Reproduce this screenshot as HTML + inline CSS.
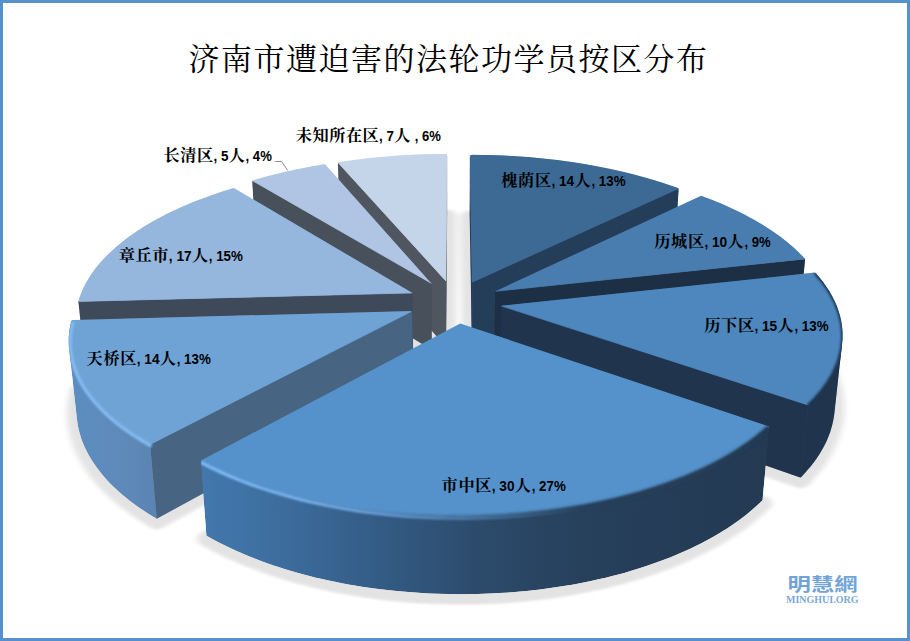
<!DOCTYPE html>
<html lang="zh"><head><meta charset="utf-8"><title>济南市遭迫害的法轮功学员按区分布</title>
<style>html,body{margin:0;padding:0;background:#fff}body{width:910px;height:641px;overflow:hidden}svg{display:block}</style>
</head><body>
<svg width="910" height="641" viewBox="0 0 910 641">
<defs><linearGradient id="g3" gradientUnits="userSpaceOnUse" x1="201" y1="0" x2="768" y2="0">
<stop offset="0" stop-color="#4378AE"/><stop offset="0.15" stop-color="#3C6C9C"/><stop offset="0.3" stop-color="#345D87"/><stop offset="0.5" stop-color="#2C4A6A"/><stop offset="0.7" stop-color="#263F5A"/><stop offset="1" stop-color="#243A53"/></linearGradient>
<linearGradient id="g4" gradientUnits="userSpaceOnUse" x1="68" y1="0" x2="158" y2="0">
<stop offset="0" stop-color="#5C8DC2"/><stop offset="0.6" stop-color="#5E8AB9"/><stop offset="1" stop-color="#5A84B2"/></linearGradient>
<linearGradient id="g3f" gradientUnits="userSpaceOnUse" x1="201" y1="0" x2="768" y2="0">
<stop offset="0" stop-color="#345D87" stop-opacity="0"/><stop offset="0.3" stop-color="#345D87" stop-opacity="0"/><stop offset="0.5" stop-color="#2C4A6A" stop-opacity="0.5"/><stop offset="0.7" stop-color="#263F5A" stop-opacity="1"/><stop offset="1" stop-color="#243A53" stop-opacity="1"/></linearGradient>
<linearGradient id="h3" gradientUnits="userSpaceOnUse" x1="201" y1="0" x2="768" y2="0">
<stop offset="0" stop-color="#82BEFA" stop-opacity="1"/><stop offset="0.2" stop-color="#7CB8F4" stop-opacity="0.9"/><stop offset="0.4" stop-color="#72B0EC" stop-opacity="0.6"/><stop offset="0.55" stop-color="#68A6E2" stop-opacity="0.3"/><stop offset="0.68" stop-color="#5592CB" stop-opacity="0"/><stop offset="1" stop-color="#5592CB" stop-opacity="0"/></linearGradient>
<filter id="blur" x="-10%" y="-10%" width="120%" height="120%"><feGaussianBlur stdDeviation="3 1.3"/></filter>
<filter id="bb" x="-5%" y="-20%" width="110%" height="140%"><feGaussianBlur stdDeviation="1.1"/></filter>
<filter id="bb2" x="-5%" y="-20%" width="110%" height="140%"><feGaussianBlur stdDeviation="1.5"/></filter>
<filter id="bh" x="-5%" y="-20%" width="110%" height="140%"><feGaussianBlur stdDeviation="1.2"/></filter>
<clipPath id="c7"><polygon points="339.8,162.0 339.0,162.3 338.5,162.7 338.0,163.4 337.9,164.2 339.7,221.7 340.0,222.7 442.2,343.0 442.9,343.6 443.5,343.8 444.3,343.8 444.9,343.5 445.7,342.8 446.0,342.3 446.1,341.6 447.2,213.5 447.1,156.0 446.8,155.0 446.1,154.2 445.3,153.9 442.1,153.9 421.9,154.3 401.8,155.3 386.9,156.4 372.0,157.8 357.3,159.5"/></clipPath>
<clipPath id="c0"><polygon points="472.1,154.7 471.2,154.9 470.5,155.4 470.1,156.1 469.9,156.9 469.6,214.4 471.9,345.3 472.2,346.4 472.6,346.9 473.2,347.3 474.0,347.5 475.1,347.3 673.8,250.4 674.3,250.1 674.8,249.4 675.0,248.6 678.6,189.9 678.6,189.3 678.3,188.7 677.9,188.1 677.4,187.8 666.4,184.0 653.8,180.0 645.2,177.5 632.1,174.0 623.1,171.8 609.6,168.7 595.7,166.0 581.7,163.5 572.2,162.1 557.9,160.1 543.5,158.5 528.9,157.1 514.2,156.1 499.5,155.3 484.7,154.9"/></clipPath>
<clipPath id="c6"><polygon points="253.9,180.0 253.3,180.2 252.7,180.8 252.4,181.6 252.3,182.2 255.6,240.5 255.8,241.3 256.3,242.0 428.6,348.0 429.4,348.3 430.0,348.4 430.8,348.1 431.3,347.7 431.8,347.0 431.9,346.2 431.5,284.2 431.2,283.2 325.7,164.9 325.0,164.4 323.9,164.3 310.9,166.6 296.9,169.3 283.2,172.3 274.2,174.5 265.3,176.8"/></clipPath>
<clipPath id="c1"><polygon points="494.5,355.9 494.7,357.0 495.3,357.6 496.1,358.1 496.9,358.1 797.4,324.5 798.0,324.2 798.5,323.8 798.8,323.2 798.9,322.6 805.1,259.9 805.0,259.1 804.6,258.4 803.0,256.5 795.9,249.5 790.8,245.0 785.3,240.5 779.6,236.1 773.7,231.9 767.4,227.7 761.0,223.7 754.2,219.8 747.2,216.0 740.1,212.3 728.9,207.0 721.2,203.6 709.3,198.7 701.8,195.9 701.2,195.8 700.5,196.0 496.1,290.9 495.4,291.8 495.2,292.7"/></clipPath>
<clipPath id="c5"><polygon points="78.5,301.0 78.4,301.9 85.3,367.0 85.6,367.9 86.0,368.4 86.5,368.8 87.1,369.0 411.2,360.1 411.8,360.0 412.5,359.6 413.1,358.9 413.3,358.3 412.5,294.1 412.4,293.2 411.8,292.5 234.6,188.4 233.7,188.1 232.8,188.2 220.7,192.0 212.2,194.9 203.8,197.9 195.6,201.1 187.6,204.3 176.0,209.5 168.5,213.1 161.2,216.8 150.7,222.6 144.0,226.6 137.6,230.7 128.4,237.1 122.6,241.5 117.1,246.0 109.4,252.9 102.4,260.1 96.1,267.5 92.4,272.5 90.6,275.1 87.5,280.2 85.9,282.8 83.3,288.0 82.1,290.7 80.0,296.0"/></clipPath>
<clipPath id="c2"><polygon points="499.9,372.1 500.0,372.7 500.4,373.4 500.9,373.9 501.4,374.2 799.3,477.2 800.3,477.3 800.9,477.2 801.6,476.7 806.1,471.8 808.7,468.8 811.2,465.8 815.7,459.9 819.8,453.7 823.4,447.6 826.5,441.5 829.0,435.3 830.2,432.2 832.0,426.1 833.4,419.9 834.4,413.7 842.2,342.8 842.5,339.9 842.6,334.3 842.5,331.4 842.0,325.7 841.0,320.1 840.4,317.3 838.9,311.9 836.9,306.3 834.6,301.0 833.2,298.2 831.8,295.5 828.8,290.3 827.1,287.7 823.5,282.5 819.5,277.5 815.9,273.3 815.3,272.8 814.5,272.6 502.8,305.6 501.9,305.8 501.4,306.2 501.0,306.9 500.8,307.7"/></clipPath>
<clipPath id="c4"><polygon points="69.2,349.8 77.0,419.7 77.9,425.9 79.3,432.1 81.1,438.2 82.2,441.2 84.8,447.4 87.8,453.5 91.3,459.6 93.3,462.6 97.4,468.6 99.8,471.6 104.7,477.5 107.3,480.5 112.9,486.3 115.9,489.1 122.3,494.8 125.7,497.6 132.7,503.1 136.4,505.8 144.2,511.1 152.4,516.3 155.8,518.3 156.4,518.5 157.0,518.5 157.8,518.2 412.3,379.5 412.9,378.6 413.1,377.8 412.3,313.0 412.1,312.4 411.6,311.7 410.9,311.2 410.0,311.1 73.0,319.9 72.4,320.0 71.8,320.4 71.2,321.3 70.2,325.5 69.3,331.2 68.8,336.8 68.7,339.7 68.8,345.4"/></clipPath>
<clipPath id="c3"><polygon points="202.0,459.9 201.5,460.3 201.1,460.8 200.9,461.4 200.8,462.0 206.3,534.6 206.4,535.2 206.9,535.9 207.4,536.3 215.5,540.8 225.0,545.6 235.0,550.3 245.3,554.8 250.7,557.0 261.6,561.2 267.1,563.2 272.9,565.2 284.4,569.0 296.4,572.5 314.9,577.4 327.5,580.3 347.0,584.2 360.2,586.4 380.4,589.3 394.1,590.8 414.8,592.6 428.8,593.4 449.8,594.1 463.8,594.2 477.9,594.0 498.9,593.1 512.8,592.2 526.6,591.0 540.3,589.4 560.5,586.6 573.7,584.4 593.1,580.6 605.8,577.7 624.3,572.9 636.2,569.3 647.8,565.6 659.1,561.6 670.0,557.5 675.3,555.3 685.7,550.8 690.7,548.5 700.4,543.7 709.8,538.8 714.3,536.2 722.9,531.1 727.1,528.4 735.1,523.0 739.0,520.3 746.3,514.7 749.8,511.8 756.4,506.1 762.0,500.8 762.5,500.1 762.6,499.4 769.2,427.9 769.1,427.3 768.8,426.7 768.3,426.3 767.7,426.0 461.0,323.7 460.2,323.6 459.3,323.9"/></clipPath></defs>
<rect x="0" y="0" width="910" height="641" fill="#5592CB"/>
<rect x="3" y="3" width="904" height="635" fill="#FFFFFF"/>
<g opacity="0.105" filter="url(#blur)"><g fill="#000" stroke="#000" stroke-width="19" stroke-linejoin="round" transform="translate(0,3.2) scale(1,0.763)"><polygon points="446.0,455.5 339.8,291.5 349.3,289.5 358.9,287.7 368.5,286.0 378.2,284.6 388.0,283.3 397.8,282.2 407.6,281.4 417.5,280.7 427.4,280.2 437.3,279.9 447.2,279.8"/><polygon points="472.0,457.1 469.6,281.0 479.6,281.1 489.5,281.4 499.4,281.9 509.3,282.6 519.1,283.5 529.0,284.5 538.8,285.8 548.5,287.2 558.2,288.9 567.8,290.7 577.3,292.7 586.7,295.0 596.1,297.4 605.4,300.0 614.5,302.8 623.6,305.7 632.5,308.9 641.3,312.3 649.9,315.8 658.4,319.5 666.8,323.4 674.9,327.5"/><polygon points="431.9,458.9 255.6,316.7 264.2,313.2 272.8,310.0 281.6,306.9 290.5,303.9 299.6,301.2 308.7,298.7 317.9,296.3 327.2,294.1"/><polygon points="494.5,469.7 696.9,337.7 704.9,342.0 712.8,346.4 720.4,351.0 727.9,355.8 735.1,360.7 742.1,365.8 749.0,371.1 755.5,376.5 761.9,382.0 768.0,387.8 773.8,393.6 779.4,399.7 784.7,405.8 789.7,412.1 794.4,418.6 798.8,425.1"/><polygon points="413.3,471.9 85.5,483.7 87.2,476.3 89.2,468.9 91.6,461.6 94.3,454.4 97.4,447.4 100.9,440.4 104.7,433.5 108.9,426.8 113.3,420.2 118.1,413.7 123.2,407.3 128.5,401.1 134.2,395.0 140.1,389.1 146.3,383.3 152.7,377.7 159.4,372.2 166.3,367.0 173.5,361.8 180.8,356.9 188.4,352.1 196.1,347.5 204.1,343.0 212.2,338.7 220.5,334.7 228.9,330.8 237.5,327.0"/><polygon points="499.9,489.7 808.5,443.8 812.7,450.6 816.5,457.6 820.1,464.8 823.2,472.0 826.0,479.3 828.5,486.7 830.5,494.2 832.2,501.8 833.5,509.5 834.4,517.2 834.8,525.0 834.9,532.8 834.5,540.6 833.7,548.5 832.4,556.4 830.7,564.3 828.6,572.2 825.9,580.0 822.9,587.8 819.3,595.6 815.4,603.4 810.9,611.0 806.0,618.6 800.6,626.1"/><polygon points="413.1,496.9 156.7,680.0 148.2,673.3 140.1,666.3 132.6,659.2 125.5,651.9 118.8,644.5 112.7,637.0 107.0,629.3 101.8,621.5 97.1,613.6 92.9,605.7 89.2,597.7 86.0,589.6 83.2,581.5 80.9,573.4 79.1,565.3 77.8,557.2 76.9,549.1 76.4,541.0 76.4,532.9 76.9,524.9 77.8,517.0 79.1,509.1"/><polygon points="460.0,514.0 762.6,655.6 756.4,663.3 749.8,670.8 742.7,678.2 735.1,685.5 727.1,692.5 718.6,699.4 709.7,706.1 700.4,712.6 690.7,718.8 680.5,724.9 670.0,730.6 659.1,736.1 647.8,741.3 636.2,746.2 624.3,750.8 612.0,755.1 599.5,759.0 586.7,762.6 573.7,765.9 560.5,768.8 547.0,771.4 533.4,773.6 519.7,775.4 505.8,776.8 491.9,777.9 477.9,778.5 463.9,778.8 449.8,778.7 435.8,778.2 421.8,777.3 407.9,776.0 394.1,774.3 380.4,772.3 366.9,769.9 353.6,767.1 340.4,764.0 327.5,760.5 314.9,756.7 302.5,752.5 290.4,748.1 278.6,743.3 267.2,738.2 256.1,732.8 245.3,727.2 235.0,721.3 225.0,715.1 215.5,708.7 206.4,702.1"/></g></g>
<g clip-path="url(#c7)">
<polygon points="445.9,280.9 337.8,162.3 339.8,222.4 446.0,347.5" fill="#4F5660" stroke="#4F5660" stroke-width="0.8" stroke-linejoin="round"/>
<polygon points="445.9,280.9 447.1,153.8 447.2,213.5 446.0,347.5" fill="#4F5660" stroke="#4F5660" stroke-width="0.8" stroke-linejoin="round"/>
<polygon points="445.9,280.9 337.8,162.3 342.7,161.5 347.5,160.8 352.4,160.1 357.3,159.5 362.2,158.9 367.1,158.3 372.0,157.8 376.9,157.3 381.9,156.8 386.9,156.4 391.9,156.0 396.8,155.6 401.8,155.3 406.9,155.0 411.9,154.7 416.9,154.5 421.9,154.3 426.9,154.1 432.0,154.0 437.0,153.9 442.1,153.9 447.1,153.8" fill="#C5D5E9" stroke="#C5D5E9" stroke-width="0.8" stroke-linejoin="round"/>
</g>
<g clip-path="url(#c0)">
<polygon points="472.3,282.1 469.9,154.7 469.6,214.4 472.0,348.8" fill="#243E5A" stroke="#243E5A" stroke-width="0.8" stroke-linejoin="round"/>
<polygon points="472.3,282.1 678.7,188.3 674.9,249.9 472.0,348.8" fill="#243E5A" stroke="#243E5A" stroke-width="0.8" stroke-linejoin="round"/>
<polygon points="472.3,282.1 469.9,154.7 474.8,154.7 479.8,154.8 484.7,154.9 489.6,155.0 494.5,155.1 499.5,155.3 504.4,155.5 509.3,155.8 514.2,156.1 519.1,156.4 524.0,156.7 528.9,157.1 533.7,157.5 538.6,158.0 543.4,158.5 548.3,159.0 553.1,159.5 557.9,160.1 562.7,160.7 567.5,161.4 572.2,162.1 577.0,162.8 581.7,163.5 586.4,164.3 591.1,165.1 595.7,166.0 600.4,166.9 605.0,167.8 609.6,168.7 614.1,169.7 618.7,170.7 623.2,171.8 627.6,172.8 632.1,174.0 636.5,175.1 640.9,176.3 645.2,177.5 649.5,178.7 653.8,180.0 658.1,181.3 662.3,182.6 666.4,184.0 670.6,185.4 674.7,186.8 678.7,188.3" fill="#3D6A95" stroke="#3D6A95" stroke-width="0.8" stroke-linejoin="round"/>
</g>
<g clip-path="url(#c6)">
<polygon points="431.5,283.4 252.2,180.5 255.6,241.6 431.9,350.1" fill="#48505C" stroke="#48505C" stroke-width="0.8" stroke-linejoin="round"/>
<polygon points="431.5,283.4 252.2,180.5 256.6,179.2 260.9,178.0 265.3,176.8 269.7,175.6 274.2,174.5 278.7,173.4 283.2,172.3 287.8,171.3 292.3,170.2 296.9,169.3 301.6,168.3 306.2,167.4 310.9,166.6 315.6,165.7 320.3,164.9 325.1,164.1" fill="#AFC5E3" stroke="#AFC5E3" stroke-width="0.8" stroke-linejoin="round"/>
</g>
<g clip-path="url(#c1)">
<polygon points="495.2,291.3 805.2,258.9 798.8,324.4 494.5,358.4" fill="#1D2F45" stroke="#1D2F45" stroke-width="0.8" stroke-linejoin="round"/>
<polygon points="495.2,291.3 701.1,195.7 705.2,197.2 709.3,198.7 713.3,200.3 717.3,201.9 721.2,203.6 725.1,205.3 728.9,207.0 732.7,208.7 736.4,210.5 740.1,212.3 743.7,214.1 747.3,216.0 750.8,217.9 754.2,219.8 757.6,221.7 760.9,223.7 764.2,225.7 767.4,227.7 770.6,229.8 773.7,231.9 776.7,234.0 779.6,236.1 782.5,238.3 785.3,240.5 788.1,242.7 790.7,245.0 793.3,247.2 795.9,249.5 798.3,251.8 800.7,254.2 803.0,256.5 805.2,258.9" fill="#497DB0" stroke="#497DB0" stroke-width="0.8" stroke-linejoin="round"/>
</g>
<g clip-path="url(#c5)">
<polygon points="412.5,292.9 78.3,301.4 85.5,369.1 413.3,360.1" fill="#3E4A59" stroke="#3E4A59" stroke-width="0.8" stroke-linejoin="round"/>
<polygon points="412.5,292.9 78.3,301.4 79.1,298.7 80.0,296.0 81.0,293.3 82.1,290.7 83.3,288.0 84.6,285.4 86.0,282.8 87.4,280.2 89.0,277.6 90.6,275.1 92.4,272.5 94.2,270.0 96.1,267.5 98.1,265.0 100.2,262.6 102.4,260.1 104.6,257.7 107.0,255.3 109.4,253.0 111.9,250.6 114.4,248.3 117.1,246.0 119.8,243.8 122.6,241.5 125.4,239.3 128.4,237.1 131.4,235.0 134.4,232.8 137.5,230.7 140.7,228.7 144.0,226.6 147.3,224.6 150.7,222.6 154.1,220.6 157.6,218.7 161.2,216.8 164.8,214.9 168.5,213.1 172.2,211.3 176.0,209.5 179.8,207.8 183.7,206.0 187.6,204.4 191.6,202.7 195.6,201.1 199.7,199.5 203.8,197.9 208.0,196.4 212.2,194.9 216.4,193.4 220.7,192.0 225.0,190.6 229.4,189.3 233.8,187.9" fill="#95B6DD" stroke="#95B6DD" stroke-width="0.8" stroke-linejoin="round"/>
</g>
<g clip-path="url(#c2)">
<polygon points="500.8,305.8 808.1,405.0 800.6,477.7 499.9,373.6" fill="#20354D" stroke="#20354D" stroke-width="0.8" stroke-linejoin="round"/>
<polygon points="842.1,343.9 841.7,346.8 841.2,349.8 840.6,352.7 839.8,355.7 839.0,358.7 838.0,361.6 836.8,364.6 835.6,367.5 834.2,370.5 832.7,373.4 831.1,376.3 829.4,379.3 827.5,382.2 825.5,385.1 823.4,388.0 821.2,390.9 818.8,393.7 816.3,396.6 813.7,399.4 811.0,402.2 808.1,405.0 800.6,477.7 803.4,474.8 806.1,471.8 808.7,468.8 811.2,465.9 813.5,462.9 815.7,459.8 817.8,456.8 819.8,453.8 821.6,450.7 823.4,447.6 825.0,444.6 826.4,441.5 827.8,438.4 829.0,435.3 830.2,432.2 831.1,429.1 832.0,426.0 832.8,422.9 833.4,419.8 834.0,416.7 834.4,413.6" fill="#20354D" stroke="#20354D" stroke-width="0.8" stroke-linejoin="round"/>
<polygon points="500.8,305.8 815.2,272.4 817.4,274.9 819.5,277.4 821.5,280.0 823.5,282.5 825.3,285.1 827.1,287.7 828.8,290.3 830.4,292.9 831.9,295.6 833.3,298.2 834.6,300.9 835.8,303.6 836.9,306.3 837.9,309.1 838.9,311.8 839.7,314.6 840.4,317.4 841.0,320.1 841.6,322.9 842.0,325.8 842.3,328.6 842.5,331.4 842.6,334.2 842.6,337.1 842.5,339.9 842.2,342.8 841.9,345.7 841.4,348.5 840.9,351.4 840.2,354.3 839.4,357.1 838.5,360.0 837.5,362.9 836.4,365.7 835.1,368.6 833.7,371.5 832.3,374.3 830.7,377.2 828.9,380.0 827.1,382.8 825.1,385.7 823.1,388.5 820.9,391.3 818.5,394.1 816.1,396.8 813.6,399.6 810.9,402.3 808.1,405.0" fill="#4D87BD" stroke="#4D87BD" stroke-width="0.8" stroke-linejoin="round"/>
<polyline points="815.2,272.9 819.5,277.9 823.5,283.0 827.1,288.2 830.4,293.4 833.3,298.7 835.8,304.1 837.9,309.6 839.7,315.1 841.0,320.6 842.0,326.3 842.5,331.9 842.6,337.6 842.2,343.3 841.4,349.0 840.2,354.8 838.5,360.5 836.4,366.2 833.7,372.0 830.7,377.7 827.1,383.3 823.1,389.0 818.5,394.6 813.6,400.1 808.1,405.5" fill="none" stroke="#20354D" stroke-width="3.2" filter="url(#bb)"/>
</g>
<g clip-path="url(#c4)">
<polygon points="412.3,311.0 150.0,444.4 156.7,518.8 413.1,379.1" fill="#476583" stroke="#476583" stroke-width="0.8" stroke-linejoin="round"/>
<polygon points="150.0,444.4 145.6,442.0 141.4,439.5 137.3,437.0 133.3,434.5 129.4,431.9 125.6,429.3 121.9,426.7 118.4,424.1 115.0,421.4 111.7,418.7 108.5,416.0 105.5,413.2 102.6,410.5 99.8,407.7 97.1,404.9 94.5,402.1 92.1,399.2 89.8,396.4 87.6,393.5 85.5,390.6 83.6,387.7 81.7,384.8 80.0,381.9 78.5,379.0 77.0,376.1 75.7,373.2 74.4,370.3 73.3,367.3 72.4,364.4 71.5,361.5 70.7,358.5 70.1,355.6 69.6,352.7 69.2,349.7 77.0,419.8 77.4,422.8 77.9,425.9 78.5,429.0 79.3,432.1 80.2,435.1 81.1,438.2 82.2,441.3 83.5,444.3 84.8,447.4 86.3,450.5 87.8,453.5 89.5,456.6 91.3,459.6 93.2,462.6 95.3,465.6 97.5,468.6 99.7,471.6 102.1,474.6 104.7,477.5 107.3,480.5 110.1,483.4 113.0,486.3 116.0,489.1 119.1,492.0 122.3,494.8 125.7,497.6 129.1,500.4 132.7,503.1 136.4,505.8 140.3,508.5 144.2,511.1 148.2,513.7 152.4,516.3 156.7,518.8" fill="url(#g4)" stroke="#2F5178" stroke-width="0" stroke-linejoin="round"/>
<polygon points="412.3,311.0 150.0,444.4 145.7,442.0 141.5,439.6 137.4,437.1 133.5,434.6 129.6,432.1 125.9,429.6 122.3,427.0 118.8,424.4 115.4,421.7 112.2,419.1 109.0,416.4 106.0,413.7 103.1,411.0 100.3,408.2 97.7,405.5 95.1,402.7 92.7,399.9 90.4,397.1 88.2,394.3 86.1,391.5 84.1,388.6 82.3,385.8 80.6,382.9 79.0,380.0 77.5,377.2 76.1,374.3 74.9,371.4 73.8,368.5 72.8,365.6 71.8,362.7 71.1,359.8 70.4,356.9 69.8,354.1 69.4,351.2 69.0,348.3 68.8,345.4 68.7,342.5 68.7,339.7 68.8,336.8 69.0,334.0 69.3,331.1 69.7,328.3 70.2,325.5 70.8,322.7 71.6,319.9" fill="#6FA3D6" stroke="#6FA3D6" stroke-width="0.8" stroke-linejoin="round"/>
<polyline points="150.5,446.0 141.8,441.1 133.6,436.0 125.9,430.8 118.7,425.5 112.0,420.1 105.7,414.6 100.0,409.0 94.7,403.3 90.0,397.6 85.7,391.8 81.9,385.9 78.7,380.1 75.9,374.2 73.6,368.3 71.8,362.4 70.5,356.4 69.6,350.5 69.2,344.7 69.3,338.8 69.8,333.0 70.7,327.2 72.1,321.5" fill="none" stroke="url(#g4)" stroke-width="3.2" filter="url(#bb)"/>
<polyline points="151.5,445.9 142.8,441.0 134.6,435.9 126.9,430.7 119.7,425.4 113.0,420.0 106.7,414.5 101.0,408.9 95.7,403.2 91.0,397.5 86.7,391.7 82.9,385.8 79.7,380.0 76.9,374.1 74.6,368.2 72.8,362.3 71.5,356.3 70.6,350.4 70.2,344.6 70.3,338.7 70.8,332.9 71.7,327.1 73.1,321.4" fill="none" stroke="#86BEF4" stroke-width="3.4" filter="url(#bh)"/>
</g>
<g clip-path="url(#c3)">
<polygon points="769.4,426.6 766.3,429.4 763.1,432.2 759.8,434.9 756.4,437.7 752.8,440.4 749.1,443.1 745.4,445.7 741.4,448.4 737.4,451.0 733.3,453.5 729.0,456.1 724.7,458.6 720.2,461.0 715.6,463.5 710.9,465.9 706.1,468.2 701.2,470.5 696.1,472.8 691.0,475.0 685.8,477.2 680.4,479.3 675.0,481.4 669.5,483.4 663.9,485.4 658.2,487.3 652.3,489.2 646.5,491.0 640.5,492.8 634.4,494.5 628.3,496.1 622.1,497.7 615.8,499.3 609.4,500.7 602.9,502.2 596.4,503.5 589.9,504.8 583.2,506.0 576.5,507.2 569.8,508.3 563.0,509.3 556.1,510.3 549.2,511.2 542.3,512.0 535.3,512.8 528.3,513.5 521.3,514.1 514.2,514.7 507.1,515.2 499.9,515.6 492.8,515.9 485.6,516.2 478.5,516.4 471.3,516.6 464.1,516.6 456.9,516.6 449.7,516.5 442.5,516.4 435.3,516.2 428.2,515.9 421.0,515.5 413.9,515.1 406.8,514.6 399.7,514.0 392.7,513.4 385.6,512.7 378.7,511.9 371.7,511.0 364.8,510.1 358.0,509.1 351.2,508.1 344.4,507.0 337.7,505.8 331.1,504.6 324.5,503.3 318.0,501.9 311.6,500.5 305.2,499.0 298.9,497.4 292.7,495.8 286.5,494.1 280.5,492.4 274.5,490.6 268.6,488.8 262.8,486.9 257.1,485.0 251.4,483.0 245.9,480.9 240.5,478.9 235.1,476.7 229.9,474.5 224.8,472.3 219.7,470.0 214.8,467.7 210.0,465.4 205.3,463.0 200.7,460.6 206.4,535.7 210.9,538.3 215.5,540.8 220.2,543.2 225.0,545.6 230.0,548.0 235.0,550.3 240.1,552.6 245.3,554.8 250.7,557.0 256.1,559.1 261.6,561.2 267.2,563.2 272.8,565.2 278.6,567.1 284.5,569.0 290.4,570.8 296.4,572.5 302.5,574.2 308.6,575.8 314.9,577.4 321.2,578.8 327.5,580.3 334.0,581.6 340.4,582.9 347.0,584.2 353.6,585.3 360.2,586.4 366.9,587.4 373.7,588.4 380.4,589.3 387.3,590.1 394.1,590.8 401.0,591.5 407.9,592.1 414.9,592.6 421.8,593.1 428.8,593.4 435.8,593.7 442.8,594.0 449.8,594.1 456.8,594.2 463.9,594.2 470.9,594.1 477.9,594.0 484.9,593.8 491.9,593.5 498.9,593.1 505.8,592.7 512.8,592.2 519.7,591.6 526.6,591.0 533.4,590.2 540.3,589.4 547.0,588.6 553.8,587.6 560.5,586.6 567.1,585.5 573.7,584.4 580.3,583.2 586.7,581.9 593.2,580.6 599.5,579.1 605.8,577.7 612.0,576.1 618.2,574.5 624.3,572.9 630.3,571.1 636.2,569.3 642.1,567.5 647.8,565.6 653.5,563.6 659.1,561.6 664.6,559.6 670.0,557.4 675.3,555.3 680.5,553.1 685.7,550.8 690.7,548.5 695.6,546.1 700.4,543.7 705.1,541.3 709.7,538.8 714.2,536.2 718.6,533.7 722.9,531.1 727.1,528.4 731.2,525.7 735.1,523.0 739.0,520.3 742.7,517.5 746.3,514.7 749.8,511.8 753.1,509.0 756.4,506.1 759.5,503.2 762.6,500.2" fill="url(#g3)" stroke="#2F5178" stroke-width="0" stroke-linejoin="round"/>
<polygon points="460.1,323.4 769.4,426.6 766.3,429.4 763.1,432.2 759.8,434.9 756.4,437.7 752.8,440.4 749.1,443.1 745.4,445.7 741.4,448.4 737.4,451.0 733.3,453.5 729.0,456.1 724.7,458.6 720.2,461.0 715.6,463.5 710.9,465.9 706.1,468.2 701.2,470.5 696.1,472.8 691.0,475.0 685.8,477.2 680.4,479.3 675.0,481.4 669.5,483.4 663.9,485.4 658.2,487.3 652.3,489.2 646.5,491.0 640.5,492.8 634.4,494.5 628.3,496.1 622.1,497.7 615.8,499.3 609.4,500.7 602.9,502.2 596.4,503.5 589.9,504.8 583.2,506.0 576.5,507.2 569.8,508.3 563.0,509.3 556.1,510.3 549.2,511.2 542.3,512.0 535.3,512.8 528.3,513.5 521.3,514.1 514.2,514.7 507.1,515.2 499.9,515.6 492.8,515.9 485.6,516.2 478.5,516.4 471.3,516.6 464.1,516.6 456.9,516.6 449.7,516.5 442.5,516.4 435.3,516.2 428.2,515.9 421.0,515.5 413.9,515.1 406.8,514.6 399.7,514.0 392.7,513.4 385.6,512.7 378.7,511.9 371.7,511.0 364.8,510.1 358.0,509.1 351.2,508.1 344.4,507.0 337.7,505.8 331.1,504.6 324.5,503.3 318.0,501.9 311.6,500.5 305.2,499.0 298.9,497.4 292.7,495.8 286.5,494.1 280.5,492.4 274.5,490.6 268.6,488.8 262.8,486.9 257.1,485.0 251.4,483.0 245.9,480.9 240.5,478.9 235.1,476.7 229.9,474.5 224.8,472.3 219.7,470.0 214.8,467.7 210.0,465.4 205.3,463.0 200.7,460.6" fill="#5592CB" stroke="#5592CB" stroke-width="0.8" stroke-linejoin="round"/>
<polyline points="769.4,428.2 763.1,433.8 756.4,439.3 749.1,444.7 741.4,450.0 733.3,455.1 724.7,460.2 715.6,465.1 706.1,469.8 696.1,474.4 685.8,478.8 675.0,483.0 663.9,487.0 652.3,490.8 640.5,494.4 628.3,497.7 615.8,500.9 602.9,503.8 589.9,506.4 576.5,508.8 563.0,510.9 549.2,512.8 535.3,514.4 521.3,515.7 507.1,516.8 492.8,517.5 478.5,518.0 464.1,518.2 449.7,518.1 435.3,517.8 421.0,517.1 406.8,516.2 392.7,515.0 378.7,513.5 364.8,511.7 351.2,509.7 337.7,507.4 324.5,504.9 311.6,502.1 298.9,499.0 286.5,495.7 274.5,492.2 262.8,488.5 251.4,484.6 240.5,480.5 229.9,476.1 219.7,471.6 210.0,467.0 200.7,462.2" fill="none" stroke="url(#g3)" stroke-width="3.6" filter="url(#bb)"/>
<polyline points="769.1,427.2 762.8,432.8 756.1,438.3 748.8,443.7 741.1,449.0 733.0,454.1 724.4,459.2 715.3,464.1 705.8,468.8 695.8,473.4 685.5,477.8 674.7,482.0 663.6,486.0 652.0,489.8 640.2,493.4 628.0,496.7 615.5,499.9 602.6,502.8 589.6,505.4 576.2,507.8 562.7,509.9 548.9,511.8 535.0,513.4 521.0,514.7 506.8,515.8 492.5,516.5 478.2,517.0 463.8,517.2 449.4,517.1 435.0,516.8 420.7,516.1 406.5,515.2 392.4,514.0 378.4,512.5 364.5,510.7 350.9,508.7 337.4,506.4 324.2,503.9 311.3,501.1 298.6,498.0 286.2,494.7 274.2,491.2 262.5,487.5 251.1,483.6 240.2,479.5 229.6,475.1 219.4,470.6 209.7,466.0 200.4,461.2" fill="none" stroke="url(#g3f)" stroke-width="4.6" filter="url(#bb2)"/>
<polyline points="769.7,428.2 763.4,433.8 756.7,439.3 749.4,444.7 741.7,450.0 733.6,455.1 725.0,460.2 715.9,465.1 706.4,469.8 696.4,474.4 686.1,478.8 675.3,483.0 664.2,487.0 652.6,490.8 640.8,494.4 628.6,497.7 616.1,500.9 603.2,503.8 590.2,506.4 576.8,508.8 563.3,510.9 549.5,512.8 535.6,514.4 521.6,515.7 507.4,516.8 493.1,517.5 478.8,518.0 464.4,518.2 450.0,518.1 435.6,517.8 421.3,517.1 407.1,516.2 393.0,515.0 379.0,513.5 365.1,511.7 351.5,509.7 338.0,507.4 324.8,504.9 311.9,502.1 299.2,499.0 286.8,495.7 274.8,492.2 263.1,488.5 251.7,484.6 240.8,480.5 230.2,476.1 220.0,471.6 210.3,467.0 201.0,462.2" fill="none" stroke="url(#h3)" stroke-width="3.4" filter="url(#bh)"/>
</g>
<polyline points="275.2,161.5 281.6,161.5 287.8,170.6" fill="none" stroke="#8C8C8C" stroke-width="1"/>
<text x="188.6" y="70" font-family="'Liberation Serif','Noto Serif CJK SC',serif" font-size="31" fill="#000" textLength="518.4" lengthAdjust="spacing">济南市遭迫害的法轮功学员按区分布</text>
<text x="501.3" y="185.6" font-family="'Liberation Serif','Noto Serif CJK SC',serif" font-weight="700" font-size="16.2" textLength="49.8" lengthAdjust="spacing">槐荫区</text>
<text x="551.4" y="185.6" font-family="'Liberation Sans',sans-serif" font-weight="700" font-size="14.4" textLength="22.8" lengthAdjust="spacingAndGlyphs" xml:space="preserve">, 14</text>
<text x="574.5" y="185.6" font-family="'Liberation Serif','Noto Serif CJK SC',serif" font-weight="700" font-size="16.2">人</text>
<text x="591.4" y="185.6" font-family="'Liberation Sans',sans-serif" font-weight="700" font-size="14.4" textLength="34.1" lengthAdjust="spacingAndGlyphs" xml:space="preserve">, 13%</text>
<text x="654.3" y="247.0" font-family="'Liberation Serif','Noto Serif CJK SC',serif" font-weight="700" font-size="16.2" textLength="49.8" lengthAdjust="spacing">历城区</text>
<text x="704.4" y="247.0" font-family="'Liberation Sans',sans-serif" font-weight="700" font-size="14.4" textLength="22.8" lengthAdjust="spacingAndGlyphs" xml:space="preserve">, 10</text>
<text x="727.5" y="247.0" font-family="'Liberation Serif','Noto Serif CJK SC',serif" font-weight="700" font-size="16.2">人</text>
<text x="744.4" y="247.0" font-family="'Liberation Sans',sans-serif" font-weight="700" font-size="14.4" textLength="26.2" lengthAdjust="spacingAndGlyphs" xml:space="preserve">, 9%</text>
<text x="704.3" y="330.8" font-family="'Liberation Serif','Noto Serif CJK SC',serif" font-weight="700" font-size="16.2" textLength="49.8" lengthAdjust="spacing">历下区</text>
<text x="754.4" y="330.8" font-family="'Liberation Sans',sans-serif" font-weight="700" font-size="14.4" textLength="22.8" lengthAdjust="spacingAndGlyphs" xml:space="preserve">, 15</text>
<text x="777.5" y="330.8" font-family="'Liberation Serif','Noto Serif CJK SC',serif" font-weight="700" font-size="16.2">人</text>
<text x="794.4" y="330.8" font-family="'Liberation Sans',sans-serif" font-weight="700" font-size="14.4" textLength="34.1" lengthAdjust="spacingAndGlyphs" xml:space="preserve">, 13%</text>
<text x="441.6" y="491.1" font-family="'Liberation Serif','Noto Serif CJK SC',serif" font-weight="700" font-size="16.2" textLength="49.8" lengthAdjust="spacing">市中区</text>
<text x="491.7" y="491.1" font-family="'Liberation Sans',sans-serif" font-weight="700" font-size="14.4" textLength="22.8" lengthAdjust="spacingAndGlyphs" xml:space="preserve">, 30</text>
<text x="514.8" y="491.1" font-family="'Liberation Serif','Noto Serif CJK SC',serif" font-weight="700" font-size="16.2">人</text>
<text x="531.7" y="491.1" font-family="'Liberation Sans',sans-serif" font-weight="700" font-size="14.4" textLength="34.1" lengthAdjust="spacingAndGlyphs" xml:space="preserve">, 27%</text>
<text x="86.6" y="363.7" font-family="'Liberation Serif','Noto Serif CJK SC',serif" font-weight="700" font-size="16.2" textLength="49.8" lengthAdjust="spacing">天桥区</text>
<text x="136.7" y="363.7" font-family="'Liberation Sans',sans-serif" font-weight="700" font-size="14.4" textLength="22.8" lengthAdjust="spacingAndGlyphs" xml:space="preserve">, 14</text>
<text x="159.8" y="363.7" font-family="'Liberation Serif','Noto Serif CJK SC',serif" font-weight="700" font-size="16.2">人</text>
<text x="176.7" y="363.7" font-family="'Liberation Sans',sans-serif" font-weight="700" font-size="14.4" textLength="34.1" lengthAdjust="spacingAndGlyphs" xml:space="preserve">, 13%</text>
<text x="118.7" y="260.7" font-family="'Liberation Serif','Noto Serif CJK SC',serif" font-weight="700" font-size="16.2" textLength="49.8" lengthAdjust="spacing">章丘市</text>
<text x="168.8" y="260.7" font-family="'Liberation Sans',sans-serif" font-weight="700" font-size="14.4" textLength="22.8" lengthAdjust="spacingAndGlyphs" xml:space="preserve">, 17</text>
<text x="191.9" y="260.7" font-family="'Liberation Serif','Noto Serif CJK SC',serif" font-weight="700" font-size="16.2">人</text>
<text x="208.8" y="260.7" font-family="'Liberation Sans',sans-serif" font-weight="700" font-size="14.4" textLength="34.1" lengthAdjust="spacingAndGlyphs" xml:space="preserve">, 15%</text>
<text x="163.4" y="160.6" font-family="'Liberation Serif','Noto Serif CJK SC',serif" font-weight="700" font-size="16.2" textLength="49.8" lengthAdjust="spacing">长清区</text>
<text x="213.5" y="160.6" font-family="'Liberation Sans',sans-serif" font-weight="700" font-size="14.4" textLength="14.9" lengthAdjust="spacingAndGlyphs" xml:space="preserve">, 5</text>
<text x="228.7" y="160.6" font-family="'Liberation Serif','Noto Serif CJK SC',serif" font-weight="700" font-size="16.2">人</text>
<text x="245.6" y="160.6" font-family="'Liberation Sans',sans-serif" font-weight="700" font-size="14.4" textLength="26.2" lengthAdjust="spacingAndGlyphs" xml:space="preserve">, 4%</text>
<text x="295.8" y="141.3" font-family="'Liberation Serif','Noto Serif CJK SC',serif" font-weight="700" font-size="16.2" textLength="83.0" lengthAdjust="spacing">未知所在区</text>
<text x="379.1" y="141.3" font-family="'Liberation Sans',sans-serif" font-weight="700" font-size="14.4" textLength="14.9" lengthAdjust="spacingAndGlyphs" xml:space="preserve">, 7</text>
<text x="394.3" y="141.3" font-family="'Liberation Serif','Noto Serif CJK SC',serif" font-weight="700" font-size="16.2">人</text>
<text x="411.2" y="141.3" font-family="'Liberation Sans',sans-serif" font-weight="700" font-size="14.4" textLength="29.8" lengthAdjust="spacingAndGlyphs" xml:space="preserve"> , 6%</text>
<text x="787.5" y="591" font-family="'Liberation Sans','Noto Sans CJK TC',sans-serif" font-weight="700" font-size="17.8" fill="#72A3D7" textLength="70" lengthAdjust="spacingAndGlyphs">明慧網</text>
<text x="786" y="603" font-family="'Liberation Serif',serif" font-weight="700" font-size="9.8" fill="#7BA9DA" textLength="72.5" lengthAdjust="spacingAndGlyphs">MINGHUI.ORG</text>
</svg>
</body></html>
